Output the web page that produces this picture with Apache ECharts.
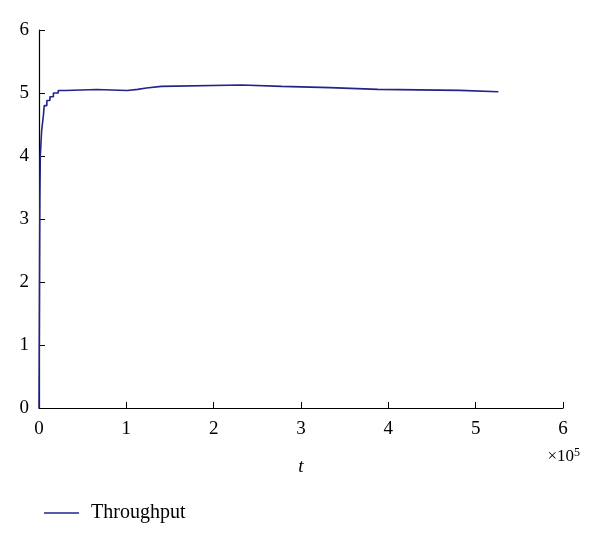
<!DOCTYPE html>
<html><head><meta charset="utf-8">
<script src="https://cdn.jsdelivr.net/npm/echarts@6/dist/echarts.min.js"></script>
<style>html,body{margin:0;padding:0;background:#fff}#c{width:600px;height:540px}</style>
</head><body><div id="c"></div>
<script>
const tValues = [0, 1000, 1500, 3000, 5000, 6000, 9000, 12500, 16500, 22000, 30000, 66000, 101000, 113000, 123000, 140000, 232000, 278000, 333000, 388000, 482000, 526000];
const throughput = [0, 3.35, 4.0, 4.4, 4.64, 4.8, 4.88, 4.94, 5.0, 5.04, 5.055, 5.04, 5.057, 5.08, 5.105, 5.128, 5.105, 5.085, 5.057, 5.041, 5.02, 5.02];
const seriesName = 'Throughput';
const xName = 't';
const xScaleLabel = '×10';

const font = 'Liberation Serif';
const chart = echarts.init(document.getElementById('c'));
chart.setOption({
  animation: false,
  grid: {left: 39, right: 37, top: 30, bottom: 132},
  xAxis: {
    type: 'value', min: 0, max: 600000, interval: 100000,
    name: xName, nameLocation: 'middle', nameGap: 49,
    nameTextStyle: {fontFamily: font, fontStyle: 'italic', fontSize: 19, color: '#000'},
    axisLine: {lineStyle: {color: '#000', width: 1.2}},
    axisTick: {inside: true, length: 6, lineStyle: {color: '#000'}},
    axisLabel: {formatter: v => String(v / 100000), fontFamily: font, fontSize: 19, color: '#000', margin: 12},
    splitLine: {show: false}
  },
  yAxis: {
    type: 'value', min: 0, max: 6, interval: 1,
    axisLine: {show: true, lineStyle: {color: '#000', width: 1.2}},
    axisTick: {show: true, inside: true, length: 6, lineStyle: {color: '#000'}},
    axisLabel: {fontFamily: font, fontSize: 19, color: '#000', margin: 10},
    splitLine: {show: false}
  },
  legend: {
    left: 39, top: 498, icon: 'rect', itemWidth: 35, itemHeight: 1.5, itemGap: 10,
    textStyle: {fontFamily: font, fontSize: 20, color: '#000', padding: [0, 0, 0, 7]},
    data: [seriesName]
  },
  graphic: [{
    type: 'text', right: 20, top: 447,
    style: {
      text: '{a|' + xScaleLabel + '}{b|5}',
      rich: {a: {fontFamily: font, fontSize: 17, fill: '#000'}, b: {fontFamily: font, fontSize: 12, fill: '#000', verticalAlign: 'top', padding: [0, 0, 8, 0]}}
    }
  }],
  series: [{
    name: seriesName, type: 'line', step: 'end', showSymbol: false,
    data: tValues.map((t, i) => [t, throughput[i]]),
    lineStyle: {color: '#23238a', width: 1.6}, itemStyle: {color: '#23238a'}
  }]
});
</script></body></html>
